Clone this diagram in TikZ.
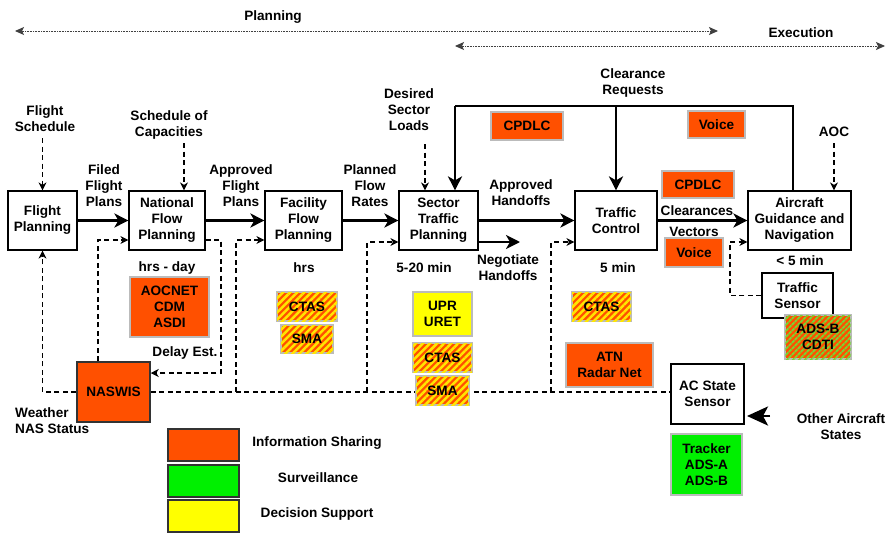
\documentclass[tikz,border=0pt]{standalone}
\usepackage{fontspec}
\setmainfont{Liberation Sans}
\usetikzlibrary{arrows.meta,patterns.meta,calc}
\definecolor{infoO}{HTML}{FF5000}
\definecolor{hatchY}{HTML}{FFE600}
\definecolor{survG}{HTML}{00F000}
\definecolor{decY}{HTML}{FFFF00}
\definecolor{hatchG}{HTML}{77D633}
\definecolor{edgeG}{HTML}{BBBBBB}
\definecolor{edgeD}{HTML}{333333}
\tikzset{
  box/.style={draw=black, line width=1.2pt, fill=white},
  infobox/.style={draw=edgeG, line width=1.5pt, fill=infoO},
  hatchbox/.style={draw=edgeG, line width=1.5pt, fill=infoO,
    postaction={pattern={Lines[angle=45,distance=5pt,line width=2.5pt]}, pattern color=hatchY}},
  hatchgbox/.style={draw=edgeG, line width=1.5pt, fill=infoO,
    postaction={pattern={Lines[angle=45,distance=4pt,line width=2pt]}, pattern color=hatchG}},
  survbox/.style={draw=edgeG, line width=1.5pt, fill=survG},
  decbox/.style={draw=edgeG, line width=1.5pt, fill=decY},
  legbox/.style={draw=edgeD, line width=1.5pt},
  thk/.style={line width=2.8pt, -{Stealth[length=14pt,width=14pt,inset=4pt]}},
  thkline/.style={line width=2.8pt},
  dsh/.style={line width=1.1pt, dash pattern=on 5pt off 3.5pt},
  darr/.style={-{Stealth[length=8pt,width=8pt,inset=2.5pt]}},
  dotarr/.style={line width=0.9pt, draw=black!75, dash pattern=on 0.8pt off 0.8pt,
    {Stealth[length=9pt,width=8pt,inset=2pt]}-{Stealth[length=9pt,width=8pt,inset=2pt]}},
}
\begin{document}
\begin{tikzpicture}[x=1pt,y=-1pt,
  every node/.style={font=\fontsize{13.6}{16}\selectfont\bfseries, inner sep=0pt, align=center}]
\useasboundingbox (0,0) rectangle (886,533);

% timeline
\node (lplan) at (273,17) {Planning};
\node (lexec) at (801,33) {Execution};
\coordinate (pl1) at (15,31);
\coordinate (pl2) at (718,31);
\coordinate (ex1) at (455,46);
\coordinate (ex2) at (885,46);
\draw[dotarr] (pl1) -- (pl2);
\draw[dotarr] (ex1) -- (ex2);

% main boxes
\node[box, minimum width=69, minimum height=59] (fp) at (42.5,220.5) {Flight\\Planning};
\node[box, minimum width=76, minimum height=59] (nfp) at (167,220.5) {National\\Flow\\Planning};
\node[box, minimum width=77, minimum height=59] (ffp) at (303.5,220.5) {Facility\\Flow\\Planning};
\node[box, minimum width=79, minimum height=59] (stp) at (438.5,220.5) {Sector\\Traffic\\Planning};
\node[box, minimum width=82, minimum height=59] (tc) at (616,220.5) {Traffic\\Control};
\node[box, minimum width=103, minimum height=59] (agn) at (799.5,220.5) {Aircraft\\Guidance and\\Navigation};
\node[box, minimum width=71, minimum height=45] (ts) at (797.5,295.5) {Traffic\\Sensor};
\node[box, minimum width=73, minimum height=60] (acs) at (707.5,394) {AC State\\Sensor};
\node[draw=edgeD, line width=1.5pt, fill=infoO, minimum width=73, minimum height=60] (nas) at (113.5,392) {NASWIS};

% labels
\node (lfs) at (45,118.5) {Flight\\Schedule};
\node (lsc) at (169,124.5) {Schedule of\\Capacities};
\node (lds) at (409,110) {Desired\\Sector\\Loads};
\node (lffp) at (104,186) {Filed\\Flight\\Plans};
\node (lafp) at (241,186) {Approved\\Flight\\Plans};
\node (lpfr) at (370,186) {Planned\\Flow\\Rates};
\node (lah) at (521,193) {Approved\\Handoffs};
\node (lnh) at (508,268) {Negotiate\\Handoffs};
\node (lcr) at (633,83) {Clearance\\Requests};
\node (laoc) at (834,132) {AOC};
\node (lcl) at (697,211) {Clearances};
\node (lvec) at (694,232) {Vectors};
\node (lt1) at (167,268) {hrs - day};
\node (lt2) at (304,268) {hrs};
\node (lt3) at (424,268) {5-20 min};
\node (lt4) at (618,268) {5 min};
\node (lt5) at (800,261) {< 5 min};
\node (lde) at (185,353) {Delay Est.};
\node[anchor=west, align=left] (lwx) at (15,420.5) {Weather\\NAS Status};
\node (loa) at (841,427) {Other Aircraft\\States};

% thick flow arrows
\draw[thk] (fp.east) -- (nfp.west);
\draw[thk] (nfp.east) -- (ffp.west);
\draw[thk] (ffp.east) -- (stp.west);
\draw[thk] (stp.east) -- (tc.west);
\draw[thk] (tc.east) -- (agn.west);
\coordinate (nh) at (520,242);
\draw[thk] (stp.east |- nh) -- (nh);
% clearance requests loop
\draw[thkline] (agn.north -| 793,0) |- (455,106);
\draw[thk] (455,106) -- (stp.north -| 455,0);
\draw[thk] (tc.north |- 0,106) -- (tc.north);
% other aircraft states
\coordinate (oa) at (770,416);
\draw[line width=2.8pt, -{Stealth[length=21pt,width=19pt,inset=5pt]}] (oa) -- (747,416);

% dashed inputs from top
\draw[dsh,darr] (fp.north |- 0,138) -- (fp.north);
\draw[dsh,darr] (184,143) -- (nfp.north -| 184,0);
\draw[dsh,darr] (425,144) -- (stp.north -| 425,0);
\draw[dsh,darr] (834,143) -- (agn.north -| 834,0);

% NASWIS loops
\draw[dsh,darr] (nas.west) -| (fp.south);
\draw[dsh,darr] (nas.north -| 98,0) |- (nfp.west |- 0,240);
\draw[dsh,darr] (nfp.east |- 0,240) -| (221,373) -- (nas.east |- 0,373);
% bus
\draw[dsh] (nas.east) -- (acs.west |- nas.east);
\draw[dsh,darr] (236,392) |- (ffp.west |- 0,240);
\draw[dsh,darr] (367,392) |- (stp.west |- 0,242);
\draw[dsh,darr] (551,392) |- (tc.west |- 0,242);
% traffic sensor
\draw[dsh,darr] (ts.west) -| (730,242) -- (agn.west |- 0,242);

% technology boxes
\node[infobox, minimum width=79, minimum height=60] (ocd) at (169.5,307) {AOCNET\\CDM\\ASDI};
\node[hatchbox, minimum width=60, minimum height=29] (ct1) at (307,306.5) {CTAS};
\node[hatchbox, minimum width=52, minimum height=28] (sm1) at (307,339) {SMA};
\node[decbox, minimum width=59, minimum height=44] (upr) at (442.5,314) {UPR\\URET};
\node[hatchbox, minimum width=59, minimum height=29] (ct2) at (442.5,357.5) {CTAS};
\node[hatchbox, minimum width=53, minimum height=29] (sm2) at (442.5,390.5) {SMA};
\node[infobox, minimum width=72, minimum height=28] (cp1) at (527,126) {CPDLC};
\node[infobox, minimum width=57, minimum height=27] (vo1) at (716.5,124.5) {Voice};
\node[infobox, minimum width=72, minimum height=27] (cp2) at (698,184.5) {CPDLC};
\node[infobox, minimum width=58, minimum height=29] (vo2) at (694,252.5) {Voice};
\node[hatchbox, minimum width=59, minimum height=29] (ct3) at (601.5,306.5) {CTAS};
\node[infobox, minimum width=87, minimum height=44] (atn) at (609.5,365) {ATN\\Radar Net};
\node[hatchgbox, minimum width=66, minimum height=44] (adsb) at (818,337) {ADS-B\\CDTI};
\node[survbox, minimum width=71, minimum height=61] (trk) at (706.5,464.5) {Tracker\\ADS-A\\ADS-B};

% legend
\node[legbox, fill=infoO, minimum width=71, minimum height=32] (lg1) at (203.5,445) {};
\node[legbox, fill=survG, minimum width=71, minimum height=32] (lg2) at (203.5,481) {};
\node[legbox, fill=decY, minimum width=71, minimum height=32] (lg3) at (203.5,516) {};
\node (lgt1) at (317,443) {Information Sharing};
\node (lgt2) at (318,478) {Surveillance};
\node (lgt3) at (317,514) {Decision Support};
\end{tikzpicture}
\end{document}
